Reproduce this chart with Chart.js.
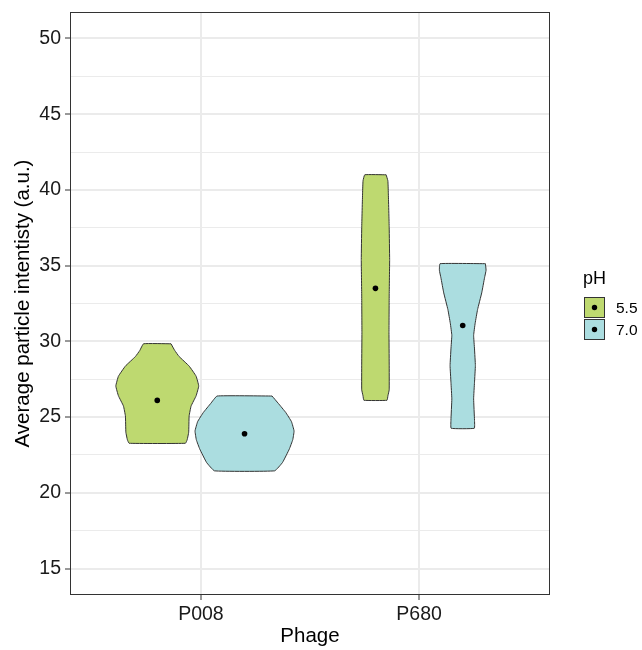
<!DOCTYPE html>
<html>
<head>
<meta charset="utf-8">
<script src="https://cdn.jsdelivr.net/npm/chart.js@4"></script>
<style>
  html, body { margin: 0; padding: 0; background: #fff; }
  #wrap { width: 642px; height: 650px; }
</style>
</head>
<body>
<div id="wrap"><canvas id="myChart" width="642" height="650"></canvas></div>
<script>
const phages = ['P008', 'P680'];
const phLevels = ['5.5', '7.0'];
const fills = ['#bed970', '#abdde0'];
const yTicks = [15, 20, 25, 30, 35, 40, 45, 50];

// mean per group (pH 5.5, pH 7.0) for each phage
const means55 = [26.1, 33.5];
const means70 = [23.9, 31.05];

// violin outlines: intensity levels and half-width (in x units) at each level
const p008_55_y = [29.84, 29.4, 29.0, 28.37, 27.7, 27.05, 26.4, 25.73, 25.07, 24.0, 23.5, 23.27];
const p008_55_w = [0.063, 0.080, 0.100, 0.146, 0.178, 0.190, 0.178, 0.155, 0.146, 0.144, 0.137, 0.129];
const p008_70_y = [26.39, 25.9, 25.3, 24.7, 24.08, 23.5, 22.88, 22.0, 21.45];
const p008_70_w = [0.126, 0.155, 0.189, 0.215, 0.227, 0.221, 0.205, 0.174, 0.138];
const p680_55_y = [41.0, 40.6, 39.8, 37.5, 35.4, 33.0, 30.6, 28.5, 26.8, 26.4, 26.11];
const p680_55_w = [0.049, 0.057, 0.059, 0.063, 0.065, 0.063, 0.062, 0.063, 0.063, 0.057, 0.053];
const p680_70_y = [35.13, 34.7, 34.2, 33.2, 32.1, 31.2, 30.4, 29.5, 28.4, 27.3, 26.2, 24.8, 24.26];
const p680_70_w = [0.104, 0.107, 0.100, 0.087, 0.068, 0.057, 0.050, 0.054, 0.058, 0.054, 0.050, 0.054, 0.053];

const dodge = 0.2;
const font = '"Liberation Sans", Arial, sans-serif';

function outline(center, ys, ws) {
    const right = ys.map((y, i) => ({ x: center + ws[i], y: y }));
    const left = ys.map((y, i) => ({ x: center - ws[i], y: y })).reverse();
    const pts = right.concat(left);
    pts.push(pts[0]);
    return pts;
}

function violin(center, ys, ws, color) {
    return {
        data: outline(center, ys, ws),
        showLine: true,
        fill: 'shape',
        backgroundColor: color,
        borderColor: '#333333',
        borderWidth: 1,
        pointRadius: 0,
        pointHoverRadius: 0,
        tension: 0.1,
    };
}

const meanPoints = [];
phages.forEach((p, i) => {
    meanPoints.push({ x: i + 1 - dodge, y: means55[i] });
    meanPoints.push({ x: i + 1 + dodge, y: means70[i] });
});

const frame = {
    id: 'frame',
    afterDraw(chart) {
        const a = chart.chartArea;
        const c = chart.ctx;
        c.save();
        c.strokeStyle = '#333333';
        c.lineWidth = 1;
        c.strokeRect(a.left + 0.5, a.top + 0.5, a.right - a.left - 1, a.bottom - a.top - 1);

        // legend
        c.fillStyle = '#000';
        c.font = '18px ' + font;
        c.textBaseline = 'alphabetic';
        c.textAlign = 'left';
        c.fillText('pH', 583, 284);
        c.font = '15.5px ' + font;
        phLevels.forEach((lv, i) => {
            const y = 297 + i * 22;
            c.fillStyle = fills[i];
            c.fillRect(584, y, 21, 21);
            c.strokeStyle = '#333333';
            c.strokeRect(584.5, y + 0.5, 20, 20);
            c.fillStyle = '#000';
            c.beginPath();
            c.arc(594.5, y + 10.5, 2.7, 0, Math.PI * 2);
            c.fill();
            c.fillText(lv, 616, y + 16);
        });
        c.restore();
    }
};

const ctx = document.getElementById('myChart');

new Chart(ctx, {
    type: 'scatter',
    data: {
        datasets: [
            {
                data: meanPoints,
                pointRadius: 2.8,
                pointBackgroundColor: '#000',
                pointBorderWidth: 0,
                showLine: false,
            },
            violin(1 - dodge, p008_55_y, p008_55_w, fills[0]),
            violin(1 + dodge, p008_70_y, p008_70_w, fills[1]),
            violin(2 - dodge, p680_55_y, p680_55_w, fills[0]),
            violin(2 + dodge, p680_70_y, p680_70_w, fills[1]),
        ]
    },
    options: {
        responsive: false,
        animation: false,
        layout: { padding: { left: 0, top: 12, right: 92, bottom: 0 } },
        plugins: {
            legend: { display: false },
            tooltip: { enabled: false },
        },
        scales: {
            x: {
                type: 'linear',
                min: 0.4,
                max: 2.6,
                afterBuildTicks: (s) => { s.ticks = phages.map((p, i) => ({ value: i + 1 })); },
                afterFit: (s) => { s.height = 55; s.paddingLeft = 0; s.paddingRight = 0; },
                ticks: {
                    callback: (v) => phages[v - 1] || '',
                    color: '#1a1a1a',
                    font: { size: 19.5, family: font },
                    padding: 3,
                    maxRotation: 0,
                    autoSkip: false,
                },
                grid: {
                    color: '#ebebeb',
                    lineWidth: 2,
                    tickColor: '#333333',
                    tickLength: 5,
                    tickWidth: 1,
                },
                border: { display: false },
                title: {
                    display: true,
                    text: 'Phage',
                    color: '#000',
                    font: { size: 20.5, family: font },
                    padding: { top: 0, bottom: 1 },
                },
            },
            y: {
                min: 13.25,
                max: 51.75,
                afterBuildTicks: (s) => {
                    const t = [];
                    for (let v = 15; v <= 50; v += 2.5) t.push({ value: v });
                    s.ticks = t;
                },
                afterFit: (s) => { s.width = 70; s.paddingTop = 0; s.paddingBottom = 0; },
                ticks: {
                    callback: (v) => yTicks.includes(v) ? String(v) : '',
                    color: '#1a1a1a',
                    font: { size: 19.5, family: font },
                    padding: 4,
                    autoSkip: false,
                },
                grid: {
                    color: '#ebebeb',
                    lineWidth: (c) => yTicks.includes(c.tick && c.tick.value) ? 2 : 1,
                    tickColor: (c) => yTicks.includes(c.tick && c.tick.value) ? '#333333' : 'rgba(0,0,0,0)',
                    tickLength: 5,
                    tickWidth: 1,
                },
                border: { display: false },
                title: {
                    display: true,
                    text: 'Average particle intentisty (a.u.)',
                    color: '#000',
                    font: { size: 20.5, family: font },
                    padding: { top: 11, bottom: 0 },
                },
            }
        }
    },
    plugins: [frame]
});
</script>
</body>
</html>
